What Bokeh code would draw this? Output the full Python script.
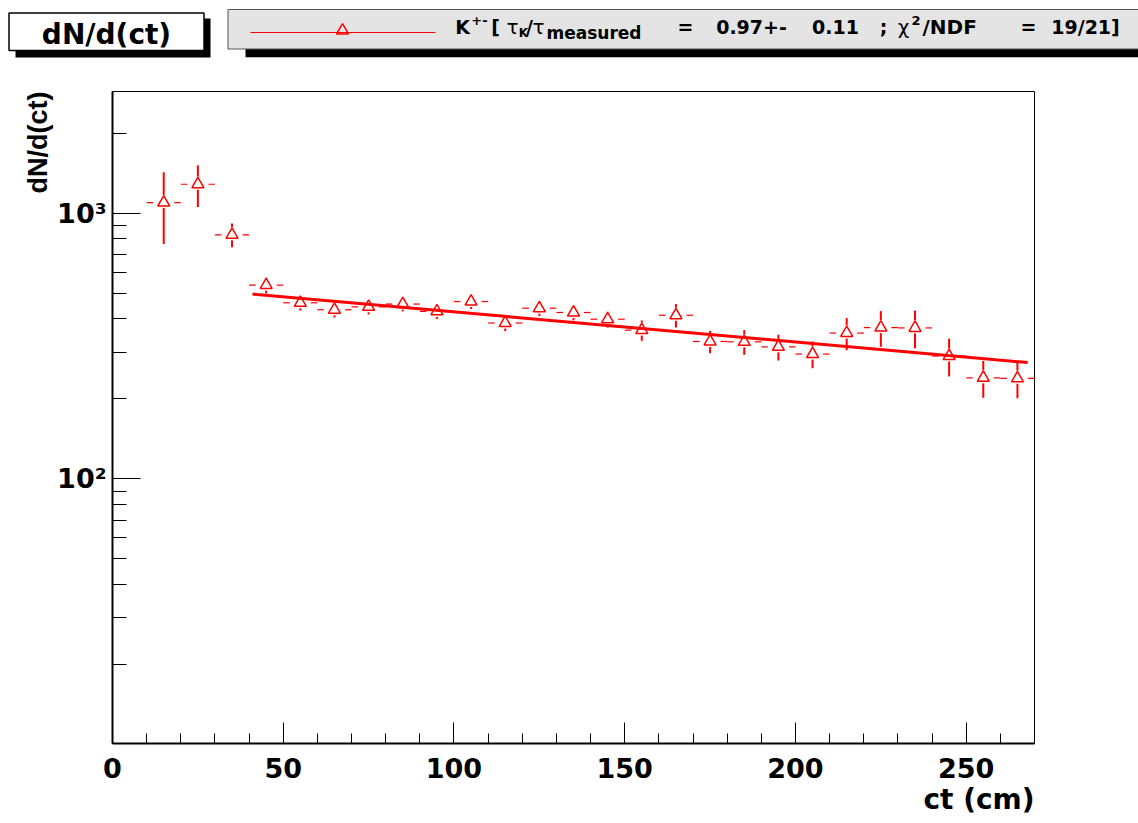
import numpy as np
from bokeh.plotting import figure
from bokeh.layouts import column
from bokeh.models import Range1d, FixedTicker, Title
from bokeh.core.properties import value
from bokeh.embed import file_html
from bokeh.resources import INLINE

# ---------------- data ----------------
ct_centers = [15, 25, 35, 45, 55, 65, 75, 85, 95, 105, 115, 125, 135,
              145, 155, 165, 175, 185, 195, 205, 215, 225, 235, 245, 255, 265]
bin_half_width = 5
counts = [1096, 1285, 829, 536, 460, 433, 444, 455, 427, 465, 386, 439, 423,
          399, 363, 413, 329, 328, 314, 295, 354, 371, 370, 290, 240, 239]
count_errors = [330, 230, 85, 37, 30, 28, 28, 28, 27, 29, 26, 29, 28,
                28, 32, 42, 32, 35, 35, 34, 49, 57, 60, 47, 38, 38]
fit_ct = [41, 268]
fit_counts = [496, 274]

x_major_ticks = [0, 50, 100, 150, 200, 250]
x_minor_ticks = [10, 20, 30, 40, 60, 70, 80, 90, 110, 120, 130, 140, 160, 170,
                 180, 190, 210, 220, 230, 240, 260]
y_major_ticks = [100, 1000]
y_minor_ticks = [20, 30, 40, 50, 60, 70, 80, 90,
                 200, 300, 400, 500, 600, 700, 800, 900, 2000]
y_tick_labels = {100: "10²", 1000: "10³"}

title_text = "dN/d(ct)"
x_title = "ct (cm)"
y_title = "dN/d(ct)"

# ---------------- layout constants ----------------
W = 1138
H_HEAD = 70
H_MAIN = 823 - H_HEAD
BL, BR, BT, BB = 112, 104, 21, 80
X_MIN, X_MAX = 0, 270
Y_MIN, Y_MAX = 10.1, 2870
RED = "#ff0000"
BOLD_FONT = "DejaVu Sans"
TXT_SHIFT = -7.5   # baseline correction for header texts

# ---------------- main plot ----------------
p = figure(width=W, height=H_MAIN, x_range=Range1d(X_MIN, X_MAX),
           y_range=Range1d(Y_MIN, Y_MAX), y_axis_type="log",
           output_backend="svg", toolbar_location=None,
           min_border_left=BL, min_border_right=BR,
           min_border_top=BT, min_border_bottom=BB,
           background_fill_color="white", border_fill_color="white")
p.xgrid.visible = False
p.ygrid.visible = False
p.outline_line_color = "black"
p.outline_line_width = 1

frame_w = W - BL - BR
frame_h = H_MAIN - BT - BB
px_per_x = frame_w / (X_MAX - X_MIN)
px_per_decade = frame_h / np.log10(Y_MAX / Y_MIN)

cx = np.array(ct_centers, dtype=float)
cy = np.array(counts, dtype=float)
ce = np.array(count_errors, dtype=float)

# error bars, cut around the open marker (ROOT style)
gap_x = 10.5 / px_per_x
fac_up = 10 ** (7.5 / px_per_decade)
fac_dn = 10 ** (5.5 / px_per_decade)

p.segment(x0=cx - bin_half_width, x1=cx - gap_x, y0=cy, y1=cy,
          line_color=RED, line_width=1.2)
p.segment(x0=cx + gap_x, x1=cx + bin_half_width, y0=cy, y1=cy,
          line_color=RED, line_width=1.2)
up_lo = cy * fac_up
up_hi = cy + ce
m = up_hi > up_lo
p.segment(x0=cx[m], x1=cx[m], y0=up_lo[m], y1=up_hi[m],
          line_color=RED, line_width=2)
dn_hi = cy / fac_dn
dn_lo = cy - ce
m = dn_lo < dn_hi
p.segment(x0=cx[m], x1=cx[m], y0=dn_lo[m], y1=dn_hi[m],
          line_color=RED, line_width=2)

p.scatter(cx, cy, marker="triangle", size=12, fill_color=None,
          line_color=RED, line_width=1.5)

p.line(fit_ct, fit_counts, line_color=RED, line_width=3)

# axes
p.xaxis.ticker = FixedTicker(ticks=x_major_ticks, minor_ticks=x_minor_ticks)
p.yaxis.ticker = FixedTicker(ticks=y_major_ticks, minor_ticks=y_minor_ticks)
p.yaxis.major_label_overrides = y_tick_labels

for ax in (p.xaxis[0], p.yaxis[0]):
    ax.axis_line_width = 2
    ax.axis_line_color = "black"
    ax.major_tick_out = 0
    ax.minor_tick_out = 0
    ax.major_tick_line_color = "black"
    ax.minor_tick_line_color = "black"
    ax.major_label_text_font = BOLD_FONT
    ax.major_label_text_font_style = "bold"
    ax.major_label_text_color = "black"

p.xaxis.major_tick_in = 21
p.xaxis.minor_tick_in = 10
p.xaxis.major_label_text_font_size = "27px"
p.xaxis.major_label_standoff = 14

p.yaxis.major_tick_in = 28
p.yaxis.minor_tick_in = 14
p.yaxis.major_label_text_font_size = "27px"
p.yaxis.major_label_standoff = 6

p.add_layout(Title(text=x_title, align="right", text_font=BOLD_FONT,
                   text_font_size="28px", text_font_style="bold",
                   text_color="black", standoff=0, offset=0), "below")
p.add_layout(Title(text=y_title, align="right", text_font="Liberation Sans",
                   text_font_size="27px", text_font_style="bold",
                   text_color="black", standoff=4, offset=0), "left")

# ---------------- header (title box + legend box) ----------------
h = figure(width=W, height=H_HEAD, x_range=Range1d(0, W),
           y_range=Range1d(H_HEAD, 0), output_backend="svg",
           toolbar_location=None, x_axis_location=None, y_axis_location=None,
           min_border_left=0, min_border_right=0, min_border_top=0,
           min_border_bottom=0, background_fill_color="white",
           border_fill_color="white")
h.grid.visible = False
h.outline_line_color = None

for fig in (h, p):
    try:
        fig.frame_align = False
    except Exception:
        pass

# title box with shadow
h.quad(left=[15], right=[210], top=[18], bottom=[57], fill_color="black",
       line_color=None)
h.quad(left=[8.5], right=[203.5], top=[12.5], bottom=[50], fill_color="white",
       line_color="black", line_width=1.5)
h.text(x=[106], y=[41.5 + TXT_SHIFT], text=[title_text], text_align="center",
       text_baseline="alphabetic", text_font=value(BOLD_FONT),
       text_font_style="bold", text_font_size="28px", text_color="black")

# legend box with shadow
h.quad(left=[245], right=[1150], top=[15], bottom=[56.7], fill_color="black",
       line_color=None)
h.quad(left=[227.5], right=[1150], top=[9], bottom=[48.5],
       fill_color="#e4e4e4", line_color="#555555", line_width=1)
h.line(x=[250, 435], y=[32, 32], line_color=RED, line_width=1)
h.scatter(x=[342], y=[30], marker="triangle", size=12, fill_color=None,
          line_color=RED, line_width=1.5)

legend_pieces = [
    # text, x, anchor, baseline, size, style
    ("K", 462, "center", 34.3, 19, "bold"),
    ("+-", 479, "center", 27.5, 13, "bold"),
    ("[", 495, "center", 34.3, 19, "bold"),
    ("τ", 512, "center", 34.3, 20, "normal"),
    ("K", 523, "center", 39.5, 12, "bold"),
    ("/", 529, "center", 34.3, 19, "bold"),
    ("τ", 538, "center", 34.3, 20, "normal"),
    ("measured", 546, "left", 39.5, 17, "bold"),
    ("=", 685, "center", 34.3, 19, "bold"),
    ("0.97+-", 751, "center", 34.3, 19, "bold"),
    ("0.11", 835, "center", 34.3, 19, "bold"),
    (";", 883, "center", 34.3, 19, "bold"),
    ("χ", 903, "center", 34.3, 20, "normal"),
    ("2", 911, "left", 27.5, 13, "bold"),
    ("/NDF", 922, "left", 34.3, 20, "bold"),
    ("=", 1028, "center", 34.3, 19, "bold"),
    ("19/21]", 1085, "center", 34.3, 19, "bold"),
]
for txt, x, anchor, yb, sz, st in legend_pieces:
    h.text(x=[x], y=[yb + TXT_SHIFT], text=[txt], text_align=anchor,
           text_baseline="alphabetic", text_font=value(BOLD_FONT),
           text_font_style=st, text_font_size=f"{sz}px", text_color="black")

layout = column(h, p, spacing=0)
open("out.html", "w").write(file_html(layout, INLINE))
